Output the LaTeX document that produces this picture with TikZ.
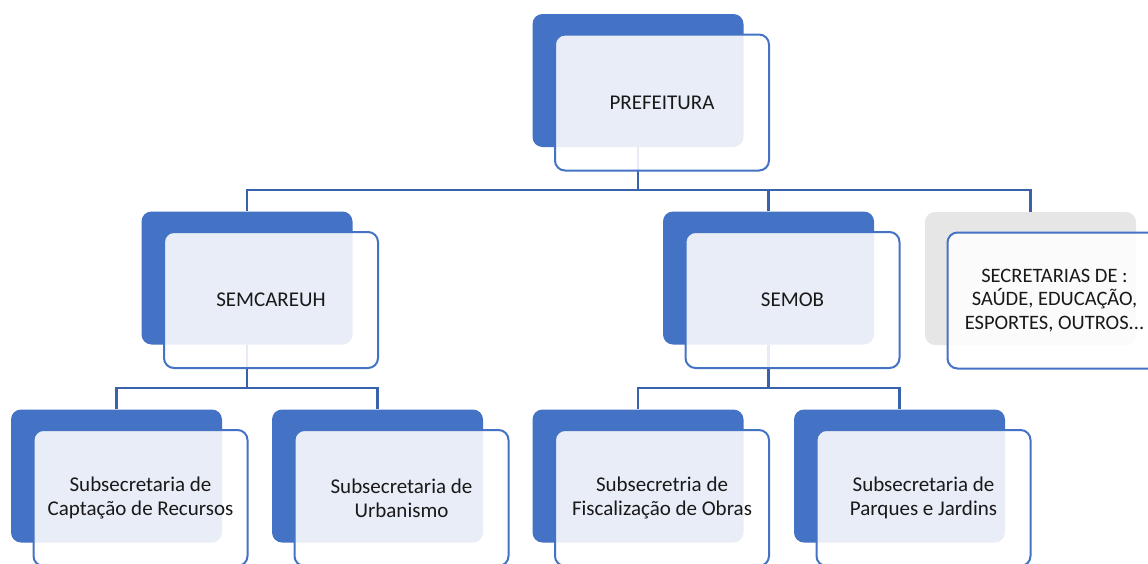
\documentclass[tikz,border=0pt]{standalone}
\usepackage{fontspec}
\setmainfont{Carlito}
\usetikzlibrary{calc}
\definecolor{boxblue}{HTML}{4472C4}
\definecolor{linkblue}{HTML}{3A62AA}
\definecolor{boxgray}{HTML}{E7E6E6}
\tikzset{
    backbox/.style = {rectangle, rounded corners = 10pt, fill = boxblue, minimum width = 211pt, minimum height = 133pt, inner sep = 0pt},
    frontbox/.style = {rectangle, rounded corners = 10pt, draw = boxblue, line width = 2pt, fill = white, fill opacity = 0.88, text opacity = 1, text = black!90, minimum width = 214pt, minimum height = 136pt, align = center, font = \fontsize{21}{24}\selectfont},
    link/.style = {draw = linkblue, line width = 2.4pt}
}
\begin{document}
\begin{tikzpicture}[x = 1pt, y = -1pt]
        \useasboundingbox (0, 0) rectangle (1148, 563);
        \clip (0, 0) rectangle (1148, 563);
        \node[backbox] (pref) at (638, 80.5) {};
        \node[backbox] (semc) at (247, 278) {};
        \node[backbox] (semob) at (768.5, 278) {};
        \node[backbox, fill = boxgray] (secr) at (1030.5, 278.5) {};
        \node[backbox] (capt) at (116.5, 476) {};
        \node[backbox] (urb) at (377.5, 476) {};
        \node[backbox] (fisc) at (638, 476) {};
        \node[backbox] (parq) at (899.5, 476) {};
        \coordinate (bus1) at (0, 190);
        \coordinate (bus2) at (0, 388);
        \draw[link] (pref.south) -- (pref.south |- bus1) -| (semc.north);
        \draw[link] (pref.south |- bus1) -| (semob.north);
        \draw[link] (pref.south |- bus1) -| (secr.north);
        \draw[link] (semc.south) -- (semc.south |- bus2) -| (capt.north);
        \draw[link] (semc.south |- bus2) -| (urb.north);
        \draw[link] (semob.south) -- (semob.south |- bus2) -| (fisc.north);
        \draw[link] (semob.south |- bus2) -| (parq.north);
        \node[frontbox] (prefT) at ($(pref) + (24, 22)$) {PREFEITURA};
        \node[frontbox] (semcT) at ($(semc) + (24, 22)$) {SEMCAREUH};
        \node[frontbox] (semobT) at ($(semob) + (24, 22)$) {SEMOB};
        \node[frontbox, font = \fontsize{20.5}{23.5}\selectfont] (secrT) at ($(secr) + (24, 22)$) {SECRETARIAS DE :\\ SAÚDE, EDUCAÇÃO,\\ ESPORTES, OUTROS...};
        \node[frontbox] (captT) at ($(capt) + (24, 22)$) {Subsecretaria de\\ Captação de Recursos};
        \node[frontbox] (urbT) at ($(urb) + (24, 22)$) {Subsecretaria de\\ Urbanismo};
        \node[frontbox] (fiscT) at ($(fisc) + (24, 22)$) {Subsecretria de\\ Fiscalização de Obras};
        \node[frontbox] (parqT) at ($(parq) + (24, 22)$) {Subsecretaria de\\ Parques e Jardins};
    \end{tikzpicture}
\end{document}
